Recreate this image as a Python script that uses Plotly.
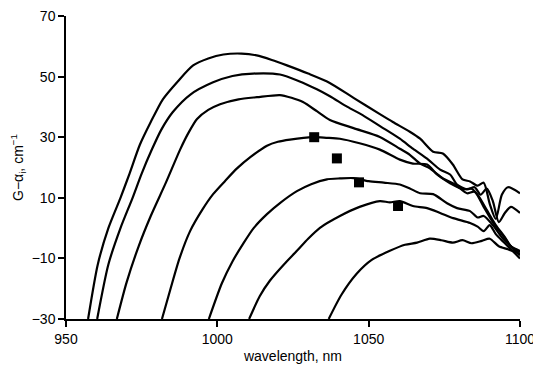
import plotly.graph_objects as go

# ---- data ----
ax_x = [957.3, 960.5, 964, 968, 971, 974.4, 978, 982, 987, 992, 997, 1002, 1008, 1013, 1018, 1023, 1030, 1037,
        1045, 1053.7, 1058, 1063.6, 1067, 1071.3, 1074.5, 1077.8, 1081, 1083.5, 1086, 1088, 1090, 1092, 1094, 1096, 1100]
ay = [-30, -12, 0, 10, 18, 27.5, 35, 42.5, 48.5, 53.7, 56, 57.3, 57.6, 57, 55.5, 53.7, 51, 48,
      43, 37.6, 35, 31.8, 29.5, 25.2, 24.6, 21, 16.1, 15.4, 14, 15, 8, 3, 11, 13.5, 11.5]

bx = [960.3, 964, 968, 972, 975, 978.4, 981.5, 985.3, 991, 998.6, 1005, 1011.8, 1020.7, 1027, 1032.9, 1037.2,
      1043, 1048, 1054, 1060.3, 1064.6, 1069.3, 1073.6, 1076.9, 1079.2, 1082.5, 1085, 1087, 1089, 1091, 1093, 1095, 1097, 1100]
by = [-30, -12, 0, 10, 18, 26, 32.5, 38.3, 44, 48.1, 50.2, 51, 50.7, 48.5, 45.8, 43.5,
      40, 37.3, 33.5, 29.5, 26.2, 22.9, 19.3, 17.7, 14.4, 12.8, 13.5, 11, 13, 9, 2, 5, 7, 5]

cx = [966.8, 970, 974, 978, 983, 987.7, 990.5, 993.3, 997, 1000.9, 1007, 1013.1, 1020.7, 1024.5, 1028.3, 1033, 1037.2,
      1045, 1053.7, 1060.3, 1063.6, 1067, 1070.2, 1074.5, 1077.8, 1081, 1084, 1086, 1089, 1092, 1095, 1097, 1100]
cy = [-30, -18, -6, 4, 15, 25.9, 31.5, 36, 39, 40.9, 42.5, 43.2, 43.9, 43, 41.6, 38.5, 35.7,
      33, 30.1, 26.2, 24.2, 21.3, 19.7, 16.4, 14.8, 12.8, 13, 11, 6, 1, -3, -6, -7.5]

dx = [981.7, 984.4, 987.5, 991, 995, 998.6, 1002.5, 1006.5, 1011, 1016.4, 1020, 1024, 1031.6, 1036, 1040.5,
      1047, 1053.7, 1060.3, 1064.6, 1069.3, 1072.6, 1076.9, 1080.2, 1082.5, 1085, 1088, 1091, 1094, 1097, 1100]
dy = [-30, -20.5, -10, -1, 6, 11.2, 15.5, 19.7, 23.5, 27.2, 28.5, 29.2, 30, 29.8, 29.5,
      28, 25.9, 22.6, 21.3, 21, 17.7, 14.8, 13.1, 11.5, 12, 7, 2, -2, -6, -9]

ex = [997.2, 1001.5, 1005, 1008.5, 1012, 1016.4, 1021, 1026.3, 1031, 1036.2, 1040.5, 1045, 1050, 1055, 1060.3,
      1063.6, 1067, 1071.3, 1075.9, 1079.2, 1083.5, 1086, 1088, 1091, 1094, 1097, 1100]
ey = [-30, -18.2, -11, -5.2, 0, 4.6, 8.5, 12.2, 14.5, 16.1, 16.4, 16.5, 15.5, 15, 14.4,
      13.1, 11.5, 11.2, 8.2, 6.6, 5.6, 3.5, 4, 1, -3, -6, -8]

fx = [1010.5, 1014, 1017.4, 1022, 1026.3, 1030, 1033.9, 1040.5, 1047, 1053.7, 1057, 1060.3, 1064.6, 1069.3,
      1073.6, 1077.9, 1083.5, 1086, 1088, 1090, 1092, 1095, 1100]
fy = [-30, -22.5, -17.3, -12, -7.5, -3.5, 0.1, 4, 7, 8.9, 8.5, 8.9, 7.3, 6.6,
      5, 3.3, 1.7, 0.5, -1, 1, -2, -5, -10]

gx = [1036.8, 1041, 1046.1, 1051, 1057, 1062, 1066, 1070.2, 1074, 1077.8, 1081, 1084, 1087.4, 1090, 1093, 1096, 1100]
gy = [-30, -22, -15, -10.5, -7.5, -5.5, -4.8, -3.5, -4, -4.8, -4, -5, -4.2, -3.5, -6, -7, -8.5]

sq_x = [1032, 1039.5, 1046.8, 1059.7]
sq_y = [30, 23, 15.1, 7.3]

x_ticks = [950, 1000, 1050, 1100]
y_ticks = [-30, -10, 10, 30, 50, 70]

curves = [(ax_x, ay), (bx, by), (cx, cy), (dx, dy), (ex, ey), (fx, fy), (gx, gy)]

fig = go.Figure()
for xs, ys in curves:
    fig.add_trace(go.Scatter(x=xs, y=ys, mode="lines",
                             line=dict(color="black", width=2.2, shape="spline", smoothing=0.7),
                             showlegend=False))
fig.add_trace(go.Scatter(x=sq_x, y=sq_y, mode="markers",
                         marker=dict(symbol="square", size=10, color="black"),
                         showlegend=False))

font = dict(family="Liberation Sans, Arial, sans-serif", size=14, color="black")
fig.update_layout(
    width=533, height=363,
    margin=dict(l=58, r=21, t=8, b=52),
    paper_bgcolor="white", plot_bgcolor="white",
    font=font,
    xaxis=dict(range=[950, 1100], tickvals=x_ticks, ticks="outside", ticklen=6, tickwidth=1.5,
               tickcolor="black", showline=True, linecolor="black", linewidth=1.5,
               showgrid=False, zeroline=False, automargin=False, ticklabeloverflow="allow",
               title=dict(text="wavelength, nm", standoff=6, font=font)),
    yaxis=dict(range=[-30, 70], tickvals=y_ticks,
               ticktext=[("\u2212" + str(-v)) if v < 0 else str(v) for v in y_ticks],
               ticks="outside", ticklen=6, tickwidth=1.5,
               tickcolor="black", showline=True, linecolor="black", linewidth=1.5,
               showgrid=False, zeroline=False, automargin=False, ticklabeloverflow="allow",
               title=dict(text="G\u2212\u03b1<sub>i</sub>, cm<sup>\u22121</sup>", standoff=6, font=font)),
)
fig.write_html("out.html")
